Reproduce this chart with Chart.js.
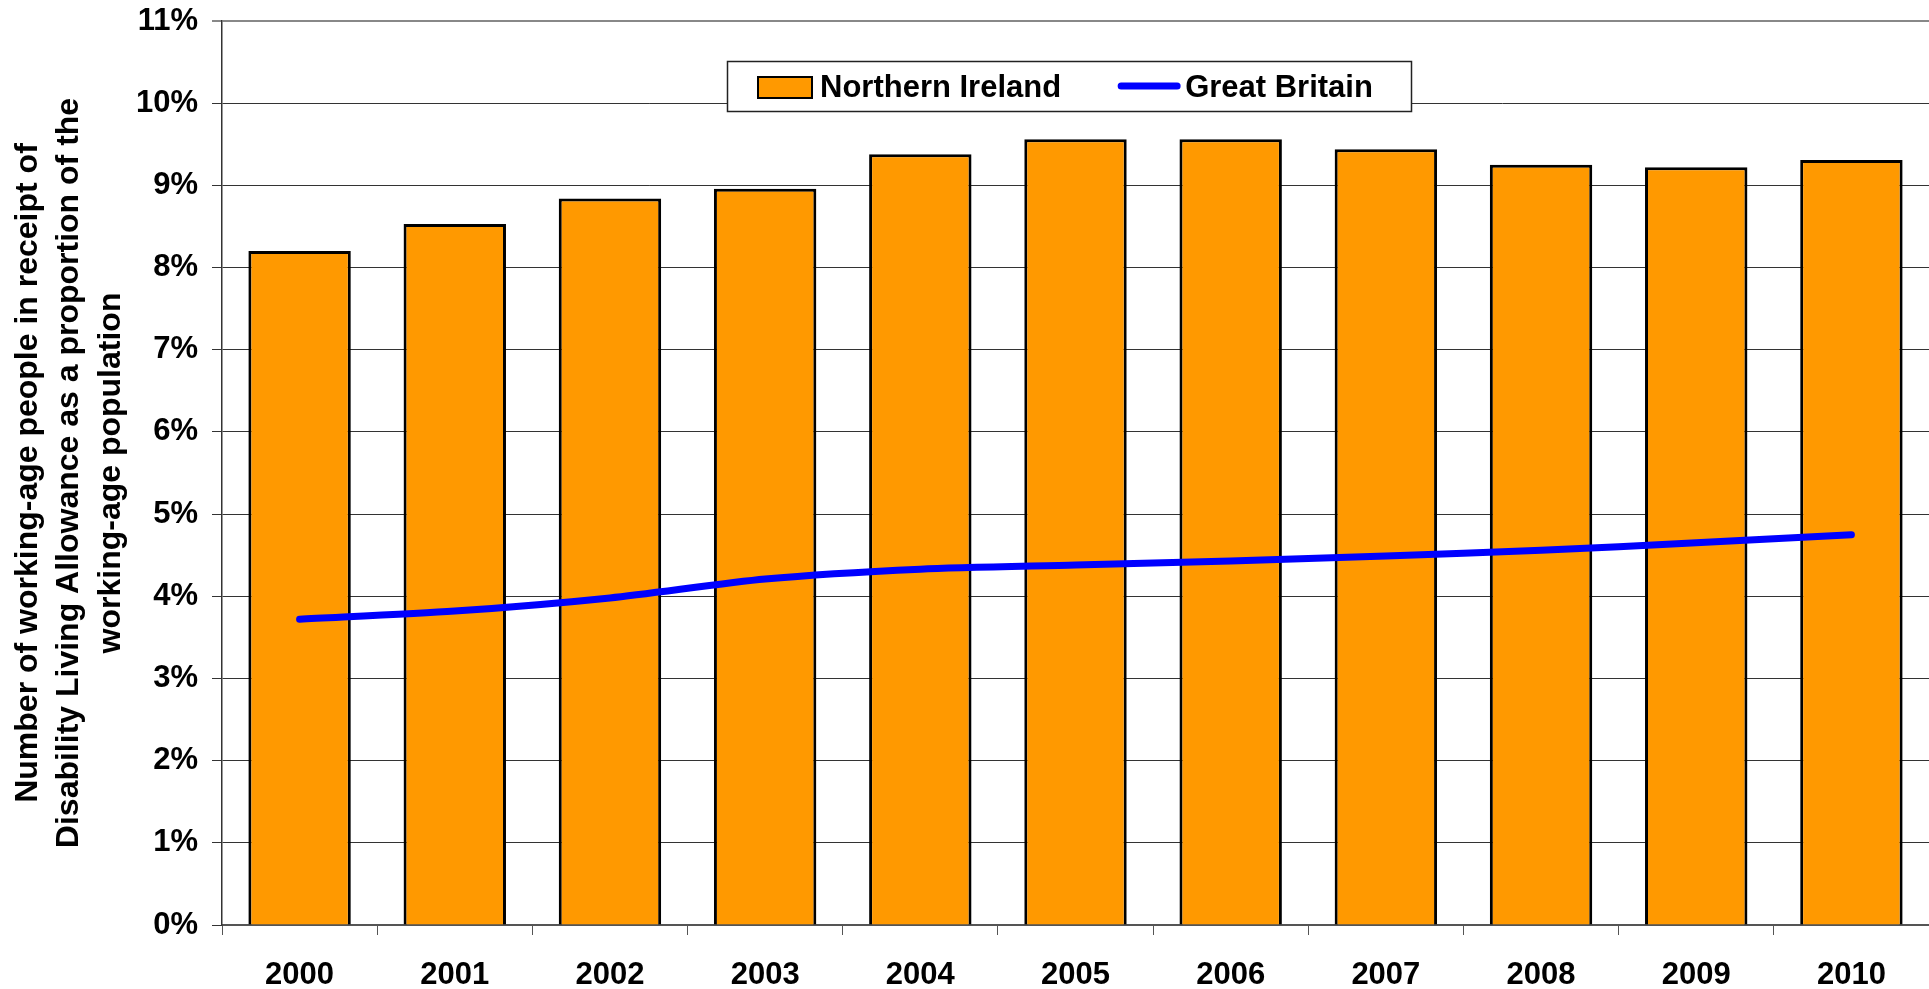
<!DOCTYPE html>
<html>
<head>
<meta charset="utf-8">
<script src="https://cdn.jsdelivr.net/npm/chart.js@4.4.1/dist/chart.umd.min.js"></script>
<style>
  html, body { margin: 0; padding: 0; background: #fff; }
  #chart { display: block; }
</style>
</head>
<body>
<canvas id="chart" width="1929" height="989"></canvas>
<script>
const years = ['2000', '2001', '2002', '2003', '2004', '2005', '2006', '2007', '2008', '2009', '2010'];
const northernIreland = [8.20, 8.53, 8.84, 8.96, 9.38, 9.56, 9.56, 9.44, 9.25, 9.22, 9.31];
const greatBritain = [3.72, 3.82, 3.98, 4.21, 4.33, 4.38, 4.43, 4.49, 4.56, 4.65, 4.75];
const yTicks = [0, 1, 2, 3, 4, 5, 6, 7, 8, 9, 10, 11];
const yTitle = [
  'Number of working-age people in receipt of',
  'Disability Living Allowance as a proportion of the',
  'working-age population'
];

const FONT = '"Liberation Sans", Arial, sans-serif';
const ORANGE = '#FF9900';
const BLUE = '#0000FF';

// legend drawn in a box inside the plot, like the excel one
const boxedLegend = {
  id: 'boxedLegend',
  afterDraw(chart) {
    const ctx = chart.ctx;
    const area = chart.chartArea;
    const w = 684, h = 50;
    const left = Math.round((area.left + area.right) / 2 - w / 2 - 7);
    const top = area.top + 40;
    const mid = top + h / 2 + 1;
    const bars = chart.data.datasets.find(d => d.type !== 'line');
    const line = chart.data.datasets.find(d => d.type === 'line');

    ctx.save();
    ctx.fillStyle = '#fff';
    ctx.fillRect(left, top, w, h);
    ctx.strokeStyle = '#222';
    ctx.lineWidth = 1.5;
    ctx.strokeRect(left + 0.5, top + 0.5, w, h);

    ctx.font = 'bold 31px ' + FONT;
    ctx.textBaseline = 'middle';

    let x = left + 31;
    // bar swatch
    ctx.fillStyle = bars.backgroundColor;
    ctx.fillRect(x, mid - 10, 54, 21);
    ctx.strokeStyle = '#000';
    ctx.lineWidth = 2;
    ctx.strokeRect(x, mid - 10, 54, 21);
    x += 62;
    ctx.fillStyle = '#000';
    ctx.fillText(bars.label, x, mid + 1);
    x += ctx.measureText(bars.label).width + 60;

    // line swatch
    ctx.strokeStyle = line.borderColor;
    ctx.lineWidth = 7;
    ctx.lineCap = 'round';
    ctx.beginPath();
    ctx.moveTo(x, mid - 1);
    ctx.lineTo(x + 56, mid - 1);
    ctx.stroke();
    x += 64;
    ctx.fillText(line.label, x, mid + 1);
    ctx.restore();
  }
};

new Chart(document.getElementById('chart'), {
  type: 'bar',
  data: {
    labels: years,
    datasets: [
      {
        type: 'line',
        label: 'Great Britain',
        data: greatBritain,
        borderColor: BLUE,
        backgroundColor: BLUE,
        borderWidth: 7,
        borderCapStyle: 'round',
        pointRadius: 0,
        tension: 0.25,
        order: 0
      },
      {
        type: 'bar',
        label: 'Northern Ireland',
        data: northernIreland,
        backgroundColor: ORANGE,
        borderColor: '#000',
        borderWidth: 3,
        barPercentage: 0.66,
        categoryPercentage: 1,
        order: 1
      }
    ]
  },
  options: {
    responsive: false,
    animation: false,
    layout: { padding: { top: 21, right: 0, bottom: 0, left: 0 } },
    plugins: {
      legend: { display: false },
      tooltip: { enabled: false }
    },
    scales: {
      x: {
        grid: {
          drawOnChartArea: false,
          drawTicks: true,
          tickLength: 10,
          color: '#555',
          offset: true
        },
        border: { color: '#555', width: 2 },
        ticks: {
          color: '#000',
          padding: 22,
          font: { family: FONT, size: 31, weight: 'bold' }
        },
        afterFit(scale) { scale.height = 64; }
      },
      y: {
        min: 0,
        max: 11,
        afterBuildTicks(scale) { scale.ticks = yTicks.map(v => ({ value: v })); },
        grid: {
          color: ctx => ctx.tick && ctx.tick.value === 11 ? '#888' : '#333',
          lineWidth: ctx => ctx.tick && ctx.tick.value === 11 ? 2 : 1,
          tickLength: 10
        },
        border: { color: '#333', width: 1.5 },
        ticks: {
          color: '#000',
          padding: 14,
          font: { family: FONT, size: 31, weight: 'bold' },
          callback: v => v + '%'
        },
        title: {
          display: true,
          text: yTitle,
          color: '#000',
          padding: { top: 7, bottom: 0 },
          font: { family: FONT, size: 32, weight: 'bold', lineHeight: 1.3 }
        },
        afterFit(scale) {
          scale.width = 222;
          scale.paddingTop = 0;
          scale.paddingBottom = 0;
        }
      }
    }
  },
  plugins: [boxedLegend]
});
</script>
</body>
</html>
